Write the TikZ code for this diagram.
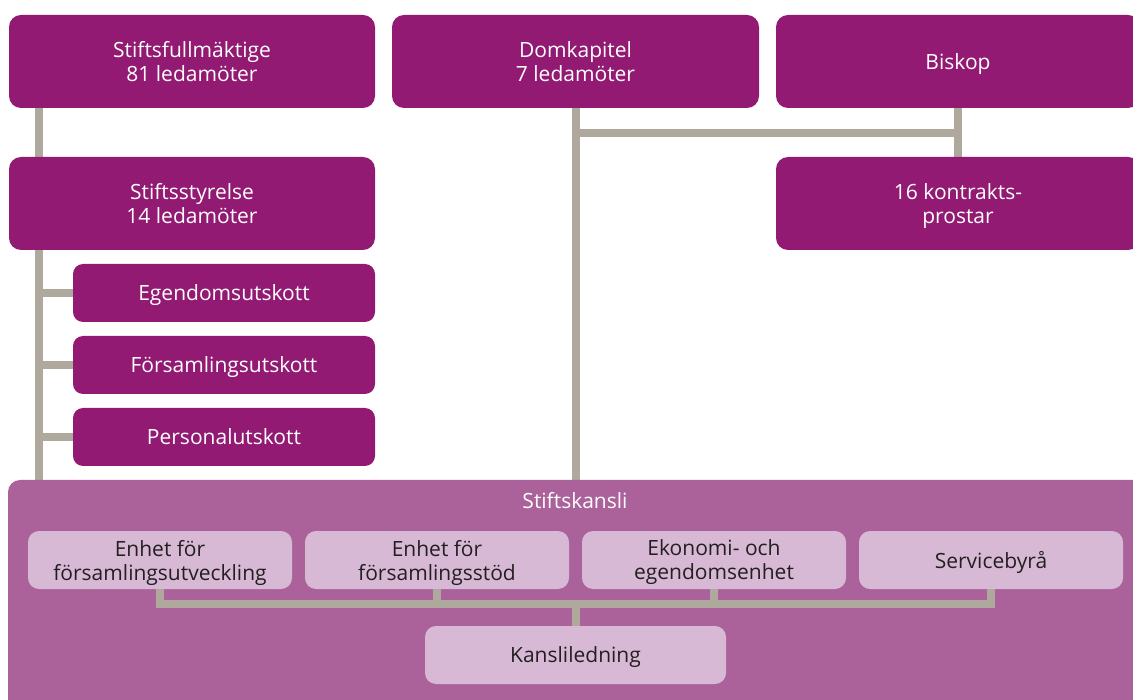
\documentclass[tikz,border=0pt]{standalone}
\usepackage{fontspec}
\setmainfont{Open Sans}
\usetikzlibrary{backgrounds}
\definecolor{dpurple}{HTML}{921A73}
\definecolor{mpurple}{HTML}{AB6199}
\definecolor{lpurple}{HTML}{D8B9D5}
\definecolor{lgray}{HTML}{AFA99D}
\definecolor{dtext}{HTML}{231F20}
\tikzset{
  dbox/.style={fill=dpurple, draw=none, rounded corners=12pt, text=white, align=center,
    font=\fontsize{21}{24}\selectfont, inner sep=0pt, text depth=0pt},
  lbox/.style={fill=lpurple, draw=none, rounded corners=11pt, text=dtext, align=center,
    font=\fontsize{21}{24}\selectfont, inner sep=0pt, text depth=0pt, minimum width=264pt, minimum height=58pt},
  cbox/.style={dbox, rounded corners=10pt, minimum width=302pt, minimum height=58pt},
  conn/.style={draw=lgray, line width=8pt, line join=miter},
}
\begin{document}
\begin{tikzpicture}[x=1pt,y=-1pt]
\clip (0,0) rectangle (1133,700);
% top row
\node[dbox, minimum width=366pt, minimum height=93pt] (sf) at (192,61.5) {Stiftsfullmäktige\\81 ledamöter};
\node[dbox, minimum width=367pt, minimum height=93pt] (dk) at (575.5,61.5) {Domkapitel\\7 ledamöter};
\node[dbox, minimum width=364pt, minimum height=93pt] (bk) at (958,61.5) {Biskop};
% second row
\node[dbox, minimum width=366pt, minimum height=93pt] (ss) at (192,203.5) {Stiftsstyrelse\\14 ledamöter};
\node[dbox, minimum width=364pt, minimum height=93pt] (kp) at (958,203.5) {16 kontrakts-\\prostar};
% committees
\node[cbox] (eg) at (224,293) {Egendomsutskott};
\node[cbox] (fo) at (224,365) {Församlingsutskott};
\node[cbox] (pe) at (224,437) {Personalutskott};
% Stiftskansli
\node[fill=mpurple, rounded corners=12pt, minimum width=1142pt, minimum height=240pt, inner sep=0pt] (sk) at (579,600) {};
\node[text=white, font=\fontsize{21}{24}\selectfont, inner sep=0pt, text depth=0pt] (skl) at (575,500) {Stiftskansli};
\node[lbox] (u1) at (160,560) {Enhet för\\församlingsutveckling};
\node[lbox] (u2) at (437,560) {Enhet för\\församlingsstöd};
\node[lbox] (u3) at (714,560) {Ekonomi- och\\egendomsenhet};
\node[lbox] (u4) at (991,560) {Servicebyrå};
\node[lbox, minimum width=301pt] (kl) at (575.5,655) {Kansliledning};
% connectors
\coordinate (lx) at (39,0);
\coordinate (ty) at (0,133);
\coordinate (by) at (0,604);
\begin{scope}[on background layer]
\fill[white] (0,0) rectangle (1133,700);
\draw[conn] (lx |- sf.south) -- (lx |- sk.north);
\draw[conn] (lx |- eg.west) -- (eg.west);
\draw[conn] (lx |- fo.west) -- (fo.west);
\draw[conn] (lx |- pe.west) -- (pe.west);
\draw[conn] (dk.south) -- (dk.south |- sk.north);
\draw[conn] (dk.south |- ty) -- (bk.south |- ty);
\draw[conn] (bk.south) -- (kp.north);
\end{scope}
\draw[conn] (u1.south) -- (u1.south |- by) -- (u4.south |- by) -- (u4.south);
\draw[conn] (u2.south) -- (u2.south |- by);
\draw[conn] (u3.south) -- (u3.south |- by);
\draw[conn] (kl.north) -- (kl.north |- by);
\end{tikzpicture}
\end{document}
